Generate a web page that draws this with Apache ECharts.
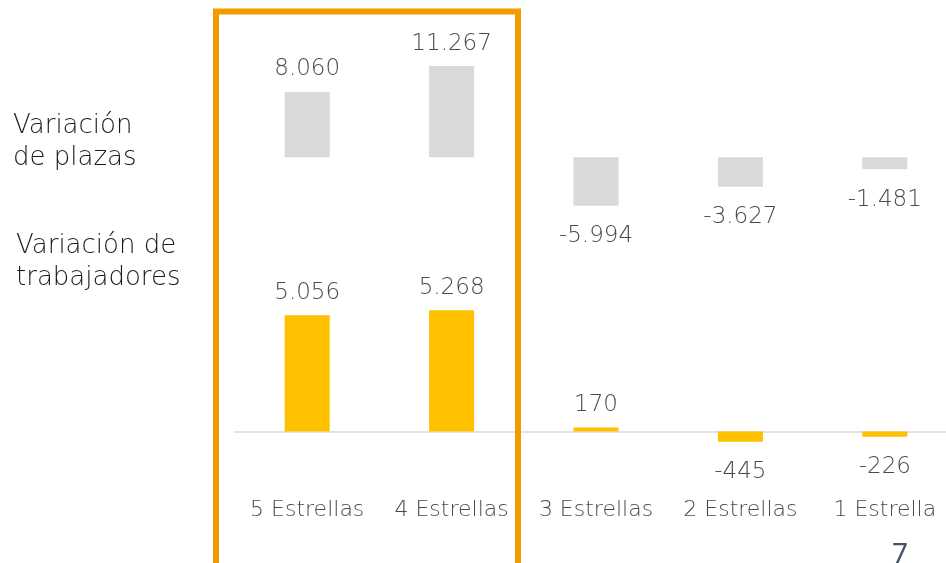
<!DOCTYPE html>
<html>
<head>
<meta charset="utf-8">
<script src="https://cdn.jsdelivr.net/npm/echarts@6/dist/echarts.min.js"></script>
<style>
html,body{margin:0;padding:0;background:#fff;}
#c{width:946px;height:563px;}
</style>
</head>
<body>
<div id="c"></div>
<script>
const categories = ['5 Estrellas', '4 Estrellas', '3 Estrellas', '2 Estrellas', '1 Estrella'];
const plazas = [8060, 11267, -5994, -3627, -1481];
const trabajadores = [5056, 5268, 170, -445, -226];

const FONT = '"DejaVu Sans"';
const TXT = '#4a4a4a';

function fmt(v) {
  const s = Math.abs(v).toString();
  const withSep = s.replace(/\B(?=(\d{3})+(?!\d))/g, '.');
  return (v < 0 ? '-' : '') + withSep;
}
function mkData(arr, color) {
  return arr.map(v => ({
    value: v,
    itemStyle: { color: color },
    label: {
      show: true,
      position: v >= 0 ? 'top' : 'bottom',
      distance: v >= 0 ? 11 : 19,
      formatter: p => fmt(p.value),
      color: TXT,
      fontFamily: FONT,
      fontWeight: 200,
      fontSize: 23
    }
  }));
}

const chart = echarts.init(document.getElementById('c'), null, { renderer: 'canvas' });
chart.setOption({
  animation: false,
  grid: [
    { left: 235, right: -11, top: 60.1, height: 162, outerBoundsMode: 'none', containLabel: false },
    { left: 235, right: -11, top: 293.5, height: 184, outerBoundsMode: 'none', containLabel: false }
  ],
  xAxis: [
    { type: 'category', gridIndex: 0, data: categories, show: false },
    {
      type: 'category', gridIndex: 1, data: categories,
      axisLine: { show: true, onZero: true, lineStyle: { color: '#d9d9d9', width: 1.5 } },
      axisTick: { show: false },
      axisLabel: { interval: 0, color: TXT, fontFamily: FONT, fontWeight: 200, fontSize: 22, margin: 22, hideOverlap: false }
    }
  ],
  yAxis: [
    { type: 'value', gridIndex: 0, min: -8000, max: 12000, show: false, splitLine: { show: false } },
    { type: 'value', gridIndex: 1, min: -2000, max: 6000, show: false, splitLine: { show: false } }
  ],
  series: [
    { type: 'bar', xAxisIndex: 0, yAxisIndex: 0, barWidth: 45, data: mkData(plazas, '#d9d9d9') },
    { type: 'bar', xAxisIndex: 1, yAxisIndex: 1, barWidth: 45, data: mkData(trabajadores, '#ffc000') }
  ],
  graphic: [
    { type: 'rect', shape: { x: 216, y: 11.5, width: 302, height: 600 },
      style: { fill: null, stroke: '#f39c00', lineWidth: 6 }, z: 100 },
    { type: 'text', left: 13, top: 110, style: { text: 'Variación\nde plazas', fill: '#1a1a1a', font: '200 26px "DejaVu Sans"', lineHeight: 32 } },
    { type: 'text', left: 16, top: 230, style: { text: 'Variación de\ntrabajadores', fill: '#1a1a1a', font: '200 26px "DejaVu Sans"', lineHeight: 32 } },
    { type: 'text', left: 892, top: 541, style: { text: '7', fill: '#44546a', font: '400 28px "Noto Sans"' } }
  ]
});
</script>
</body>
</html>
